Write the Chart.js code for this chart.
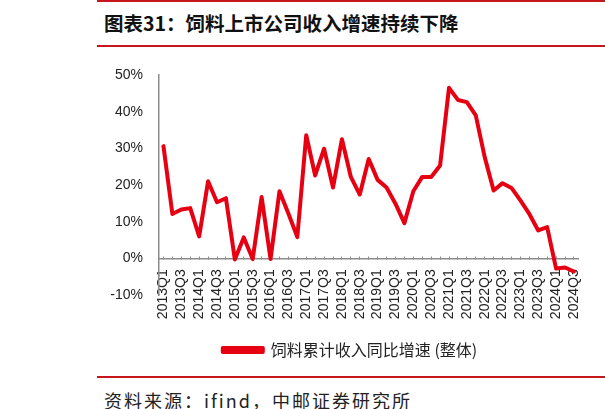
<!DOCTYPE html>
<html>
<head>
<meta charset="utf-8">
<script src="https://cdn.jsdelivr.net/npm/chart.js@4.4.1/dist/chart.umd.min.js"></script>
<style>
html,body{margin:0;padding:0;background:#fff;}
body{width:605px;height:409px;overflow:hidden;position:relative;}
.rl{position:absolute;left:97px;width:508px;height:2px;background:#C8161D;}
#title{position:absolute;left:104px;top:9px;font-family:"Noto Sans CJK SC";font-weight:bold;font-size:19.5px;line-height:28px;color:#111;white-space:nowrap;}
#source{position:absolute;left:104px;top:387px;font-family:"Noto Sans CJK SC";font-size:18px;line-height:26px;color:#222;letter-spacing:2px;white-space:nowrap;}
#c{position:absolute;left:0;top:50px;}
</style>
</head>
<body>
<div class="rl" style="top:0px"></div>
<div id="title">图表31：饲料上市公司收入增速持续下降</div>
<div class="rl" style="top:45px"></div>
<canvas id="c" width="605" height="320"></canvas>
<div class="rl" style="top:376px"></div>
<div id="source">资料来源：ifind，中邮证券研究所</div>
<script>
const quarters = [
  '2013Q1','2013Q2','2013Q3','2013Q4',
  '2014Q1','2014Q2','2014Q3','2014Q4',
  '2015Q1','2015Q2','2015Q3','2015Q4',
  '2016Q1','2016Q2','2016Q3','2016Q4',
  '2017Q1','2017Q2','2017Q3','2017Q4',
  '2018Q1','2018Q2','2018Q3','2018Q4',
  '2019Q1','2019Q2','2019Q3','2019Q4',
  '2020Q1','2020Q2','2020Q3','2020Q4',
  '2021Q1','2021Q2','2021Q3','2021Q4',
  '2022Q1','2022Q2','2022Q3','2022Q4',
  '2023Q1','2023Q2','2023Q3','2023Q4',
  '2024Q1','2024Q2','2024Q3'
];
const seriesName = '饲料累计收入同比增速 (整体)';
const growth = [
  30.6, 12.1, 13.3, 13.7,
  6.0, 21.0, 15.3, 16.4,
  -0.3, 5.7, -0.2, 16.7,
  -0.2, 18.3, 12.2, 5.8,
  33.6, 22.6, 29.9, 19.3,
  32.5, 22.2, 17.4, 27.1,
  21.4, 19.3, 14.9, 9.6,
  18.3, 22.2, 22.2, 25.3,
  46.5, 43.2, 42.6, 39.0,
  27.6, 18.5, 20.5, 19.2,
  15.8, 12.1, 7.6, 8.5,
  -2.8, -2.5, -3.6
];
const yMin = -10, yMax = 50, yStep = 10;

new Chart(document.getElementById('c'), {
  type: 'line',
  data: {
    labels: quarters,
    datasets: [{
      label: seriesName,
      data: growth,
      borderColor: '#E60012',
      backgroundColor: '#E60012',
      borderWidth: 4,
      borderJoinStyle: 'round',
      borderCapStyle: 'round',
      pointRadius: 0,
      tension: 0,
      fill: false
    }]
  },
  options: {
    responsive: false,
    animation: false,
    layout: { padding: { top: 25, right: 25, left: 120, bottom: 2 } },
    plugins: {
      tooltip: { enabled: false },
      legend: {
        position: 'bottom',
        labels: {
          boxWidth: 40,
          boxHeight: 4,
          padding: 47,
          color: '#222',
          font: { family: 'Noto Sans CJK SC', size: 16 }
        }
      }
    },
    scales: {
      x: {
        type: 'category',
        offset: true,
        position: { y: 0 },
        grid: { drawOnChartArea: false, drawTicks: true, tickLength: -3, color: '#8c8c8c', tickColor: '#8c8c8c', offset: false },
        border: { color: '#8c8c8c', width: 1.5 },
        ticks: {
          autoSkip: false, maxRotation: 90, minRotation: 90, padding: 14,
          color: '#222',
          font: { family: 'Liberation Sans', size: 14 },
          callback: (v, i) => (i % 2 === 0 ? quarters[i] : '')
        },
        afterFit: s => { s.height = 0; }
      },
      y: {
        min: yMin, max: yMax,
        grid: { display: false, drawTicks: false },
        border: { color: '#8c8c8c', width: 1.5 },
        ticks: {
          stepSize: yStep, padding: 16,
          color: '#222',
          font: { family: 'Liberation Sans', size: 14 },
          callback: v => v + '%'
        },
        afterFit: s => { s.width = 39; s._computeLabelArea = () => undefined; }
      }
    }
  }
});
</script>
</body>
</html>
